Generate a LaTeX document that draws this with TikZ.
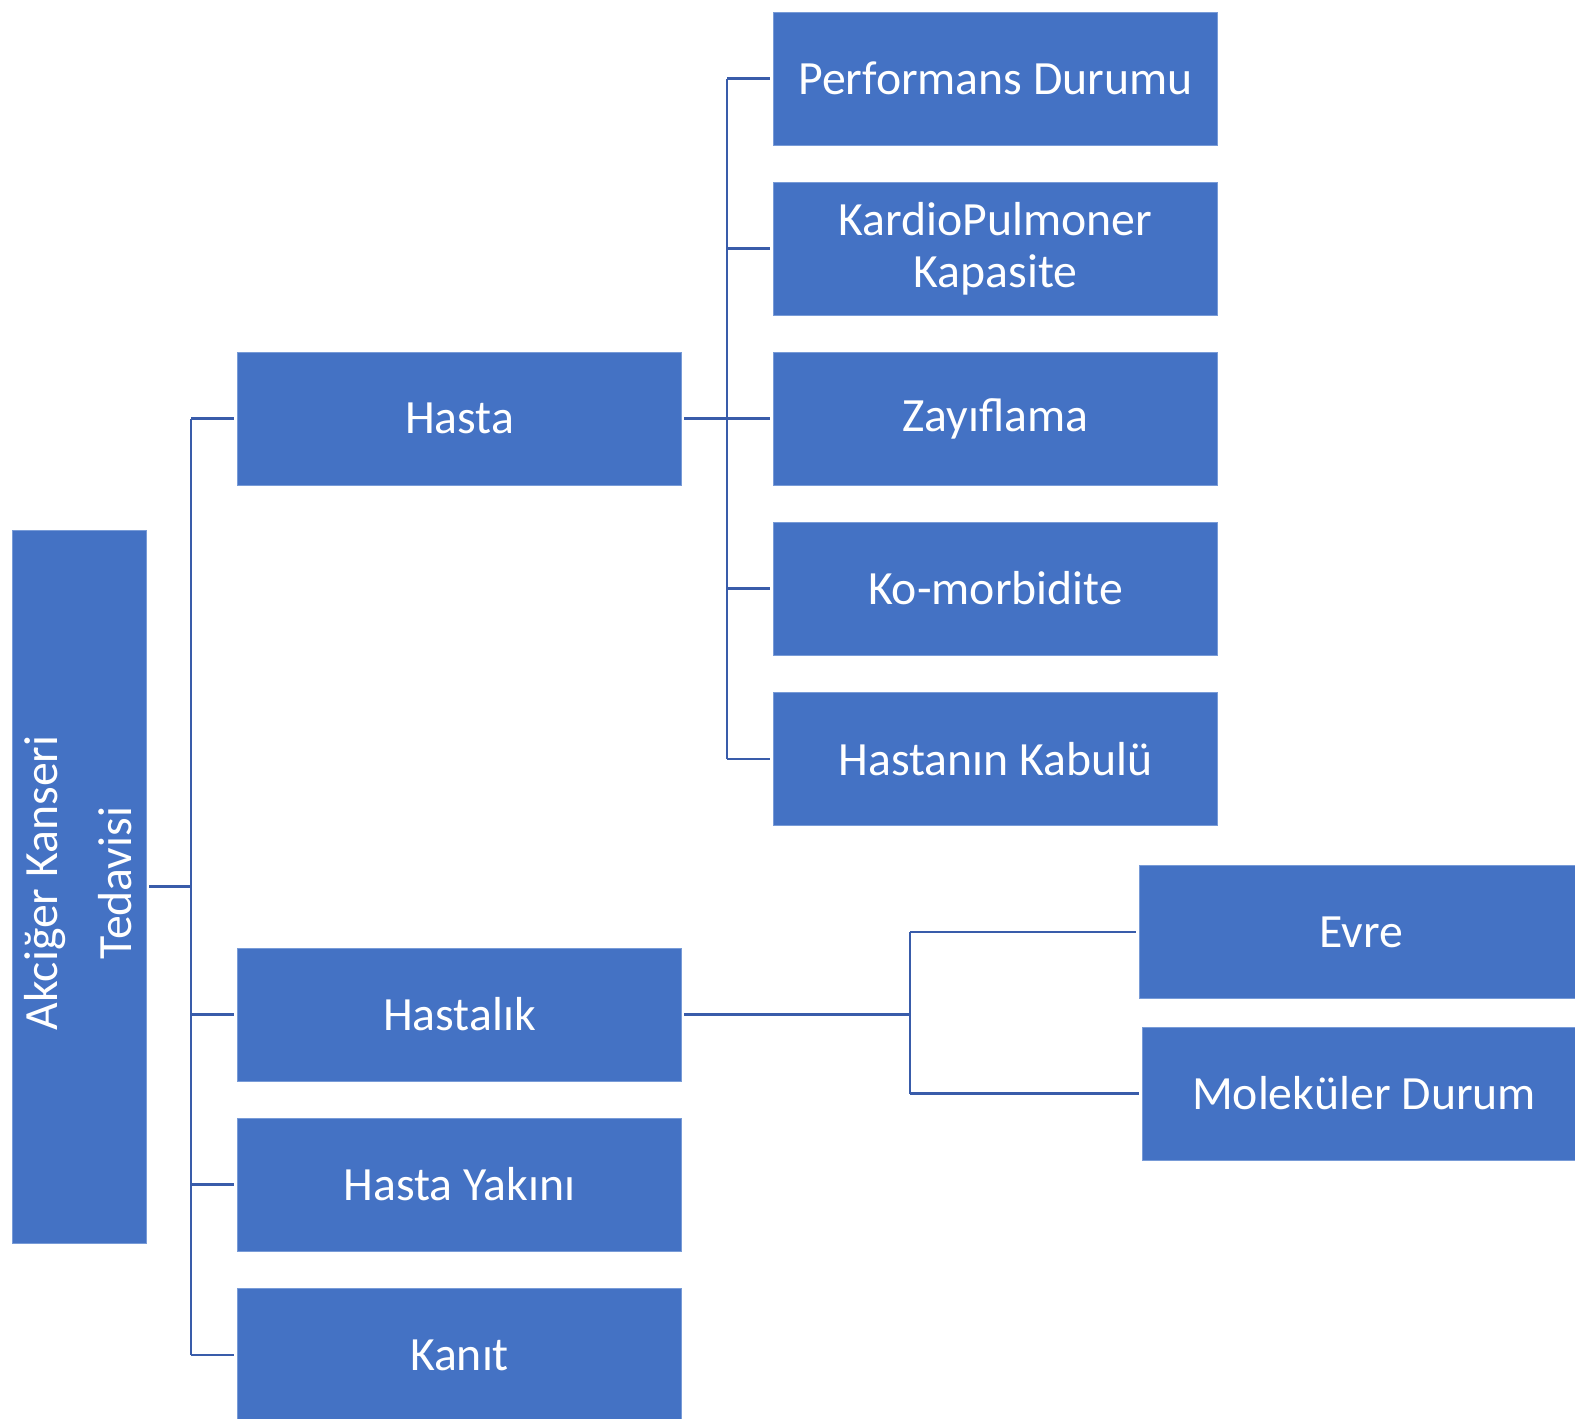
\documentclass[tikz,border=0pt]{standalone}
\usepackage{fontspec}
\setmainfont{Carlito}
\definecolor{boxblue}{HTML}{4472C4}
\definecolor{boxedge}{RGB}{120,155,215}
\definecolor{linkblue}{RGB}{57,92,170}
\begin{document}
\begin{tikzpicture}[x=0.75pt,y=-0.75pt,
  box/.style={rectangle,fill=boxblue,draw=boxedge,line width=0.6pt,inner sep=0pt,
    minimum width=332.5pt,minimum height=99.75pt,text=white,align=center,
    font=\fontsize{35.8}{39}\selectfont},
  link/.style={draw=linkblue,line width=2.2pt}]
\useasboundingbox (0,0) rectangle (1575,1418);
\begin{scope}
\clip (0,0) rectangle (1575,1418);
% root
\node[box,minimum width=100.5pt,minimum height=534.75pt] (root) at (79,886.5) {};
\node[rotate=90,text=white,align=center,font=\fontsize{35.8}{56}\selectfont] (roottext) at (78,883) {Akciğer Kanseri\\Tedavisi};
% first level
\node[box] (hasta) at (459.5,418.75) {Hasta};
\node[box] (hastalik) at (459.5,1014.5) {Hastalık};
\node[box] (yakini) at (459.5,1184.5) {Hasta Yakını};
\node[box] (kanit) at (459.5,1355) {Kanıt};
% patient factors
\node[box] (perf) at (995.5,78.5) {Performans Durumu};
\node[box] (kardio) at (995.5,248.5) {KardioPulmoner\\Kapasite};
\node[box] (zayif) at (995.5,418.75) {Zayıflama};
\node[box] (komor) at (995.5,588.5) {Ko-morbidite};
\node[box] (kabul) at (995.5,759) {Hastanın Kabulü};
% disease factors
\node[box] (evre) at (1361,932) {Evre};
\node[box] (molek) at (1364,1093.5) {Moleküler Durum};
\end{scope}
% root connectors
\coordinate (rj) at (191,886.5);
\draw[link] ([xshift=2pt]root.east) -- (rj);
\draw[link] (191,418.75) -- (191,1355);
\foreach \n in {hasta,hastalik,yakini,kanit}
  \draw[link] (\n.west -| rj) -- ([xshift=-2.5pt]\n.west);
% patient connectors
\coordinate (hj) at (727,418.75);
\draw[link] ([xshift=2pt]hasta.east) -- ([xshift=-2.5pt]zayif.west);
\draw[link] (perf.west -| hj) -- (kabul.west -| hj);
\foreach \n in {perf,kardio,komor,kabul}
  \draw[link] (\n.west -| hj) -- ([xshift=-2.5pt]\n.west);
% disease connectors
\coordinate (dj) at (910,1014.5);
\draw[link] ([xshift=2pt]hastalik.east) -- (dj);
\draw[link] (evre.west -| dj) -- (molek.west -| dj);
\foreach \n in {evre,molek}
  \draw[link] (\n.west -| dj) -- ([xshift=-2.5pt]\n.west);
\end{tikzpicture}
\end{document}
